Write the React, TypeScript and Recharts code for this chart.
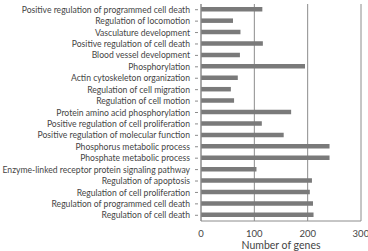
import { Bar, BarChart, CartesianGrid, XAxis, YAxis } from "recharts";

// GO terms, top to bottom
const terms = [
  "Positive regulation of programmed cell death",
  "Regulation of locomotion",
  "Vasculature development",
  "Positive regulation of cell death",
  "Blood vessel development",
  "Phosphorylation",
  "Actin cytoskeleton organization",
  "Regulation of cell migration",
  "Regulation of cell motion",
  "Protein amino acid phosphorylation",
  "Positive regulation of cell proliferation",
  "Positive regulation of molecular function",
  "Phosphorus metabolic process",
  "Phosphate metabolic process",
  "Enzyme-linked receptor protein signaling pathway",
  "Regulation of apoptosis",
  "Regulation of cell proliferation",
  "Regulation of programmed cell death",
  "Regulation of cell death",
];

const geneCounts = [115, 60, 74, 116, 73, 195, 69, 56, 62, 169, 114, 155, 241, 241, 104, 208, 204, 210, 211];

const xTicks = [0, 100, 200, 300];

const data = terms.map((term, i) => ({ term, genes: geneCounts[i] }));

const FONT = "Lato, 'Open Sans', sans-serif";
const TEXT = "#454545";

// single-line category label, right-aligned against the axis
function TermTick(props: any) {
  const { x, y, payload } = props;
  return (
    <g>
      <line x1={x + 2} x2={x + 5} y1={y} y2={y} stroke="#8c8c8c" />
      <text
        x={x - 3}
        y={y}
        dy={3.1}
        textAnchor="end"
        fontSize={8.6}
        fill={TEXT}
        fontFamily={FONT}
      >
        {payload.value}
      </text>
    </g>
  );
}

export default function App() {
  return (
    <div style={{ position: "absolute", left: 0, top: 0, background: "#fff" }}>
      <BarChart
        width={368}
        height={251}
        data={data}
        layout="vertical"
        margin={{ top: 4, right: 7, left: 0, bottom: 0 }}
      >
        <CartesianGrid horizontal={false} stroke="#8c8c8c" strokeWidth={1} />
        <XAxis
          type="number"
          domain={[0, 300]}
          ticks={xTicks}
          height={30}
          axisLine={{ stroke: "#8c8c8c" }}
          tickLine={false}
          tick={{ fontSize: 9.5, fill: TEXT, fontFamily: FONT }}
          tickMargin={3}
          label={{
            value: "Number of genes",
            position: "insideBottom",
            offset: 2,
            style: { fontSize: 10.5, fill: TEXT, fontFamily: FONT },
          }}
        />
        <YAxis
          type="category"
          dataKey="term"
          width={201}
          interval={0}
          axisLine={{ stroke: "#8c8c8c" }}
          tickLine={false}
          tick={<TermTick />}
        />
        <Bar dataKey="genes" fill="#7a7a7a" barSize={4.5} isAnimationActive={false} />
      </BarChart>
    </div>
  );
}
